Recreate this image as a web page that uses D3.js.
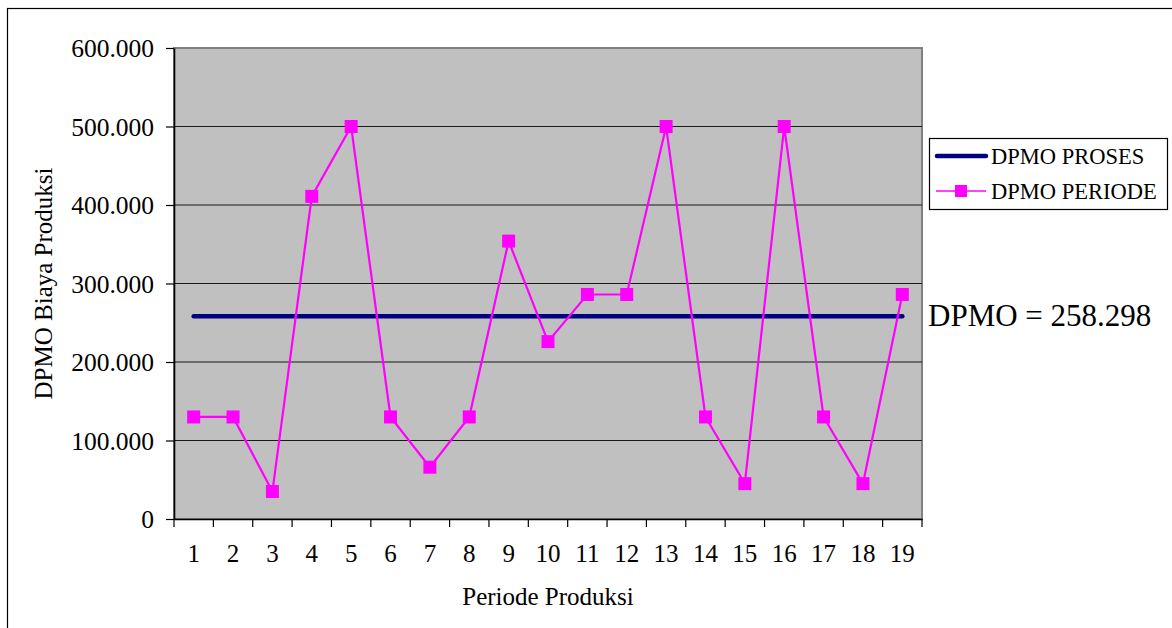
<!DOCTYPE html>
<html>
<head>
<meta charset="utf-8">
<script src="https://cdn.jsdelivr.net/npm/d3@7"></script>
<style>
  body { margin: 0; background: #fff; }
  svg { display: block; }
  svg text { font-family: "Liberation Serif", "Times New Roman", serif !important; fill: #000; }
</style>
</head>
<body>
<svg id="chart" width="1172" height="628"></svg>
<script>
// Production periods on the x axis
const periods = ["1", "2", "3", "4", "5", "6", "7", "8", "9", "10",
                 "11", "12", "13", "14", "15", "16", "17", "18", "19"];

// DPMO of production cost for each period
const dpmoPeriode = [130000, 130000, 35000, 411000, 500000, 130000, 66000, 130000, 354000, 226000,
                     286000, 286000, 500000, 130000, 45000, 500000, 130000, 45000, 286000];

// Overall process DPMO, drawn as a flat reference series
const dpmoProsesValue = 258298;
const dpmoProses = [258298, 258298, 258298, 258298, 258298, 258298, 258298, 258298, 258298, 258298,
                    258298, 258298, 258298, 258298, 258298, 258298, 258298, 258298, 258298];

const yTicks = [0, 100000, 200000, 300000, 400000, 500000, 600000];

const seriesNames = ["DPMO PROSES", "DPMO PERIODE"];

// Indonesian number format: "." as thousands separator
const idLocale = d3.formatLocale({ decimal: ",", thousands: ".", grouping: [3], currency: ["Rp", ""] });
const fmt = idLocale.format(",d");

const SERIF = "'Liberation Serif', 'Times New Roman', serif";

const svg = d3.select("#chart");

const plot = { left: 174, right: 922, top: 48, bottom: 519 };

const x = d3.scaleBand().domain(periods).range([plot.left, plot.right]);
const y = d3.scaleLinear().domain([0, 600000]).range([plot.bottom, plot.top]);
const cx = d => x(d) + x.bandwidth() / 2;

// Outer chart frame
svg.append("rect")
  .attr("x", 7.5).attr("y", 8.5)
  .attr("width", 1200).attr("height", 700)
  .attr("fill", "none").attr("stroke", "#000").attr("stroke-width", 1.2);

// Plot background
svg.append("rect")
  .attr("x", plot.left).attr("y", plot.top)
  .attr("width", plot.right - plot.left).attr("height", plot.bottom - plot.top)
  .attr("fill", "#c0c0c0")
  .attr("stroke", "#808080").attr("stroke-width", 2);

// Horizontal gridlines
svg.append("g")
  .selectAll("line")
  .data(yTicks.filter(v => v > 0 && v < 600000))
  .join("line")
  .attr("x1", plot.left).attr("x2", plot.right)
  .attr("y1", d => y(d)).attr("y2", d => y(d))
  .attr("stroke", "#1a1a1a").attr("stroke-width", 1);

// Y axis
const yAxis = svg.append("g")
  .attr("transform", `translate(${plot.left},0)`)
  .call(d3.axisLeft(y).tickValues(yTicks).tickFormat(fmt).tickSize(8).tickPadding(12).tickSizeOuter(0))
  .attr("font-family", SERIF);
yAxis.select(".domain").attr("stroke", "#000").attr("stroke-width", 1.6);
yAxis.selectAll(".tick line").attr("stroke", "#000").attr("stroke-width", 1.2);
yAxis.selectAll(".tick text")
  .style("font-family", SERIF)
  .style("font-size", "25.5px")
  .attr("dy", "0.34em")
  .attr("fill", "#000");

// X axis: labels centred on categories, ticks on category boundaries
const xAxis = svg.append("g")
  .attr("transform", `translate(0,${plot.bottom})`)
  .call(d3.axisBottom(x).tickSize(0).tickSizeOuter(0))
  .attr("font-family", SERIF);
xAxis.select(".domain").attr("stroke", "#000").attr("stroke-width", 1.6);
xAxis.selectAll(".tick text")
  .style("font-family", SERIF)
  .style("font-size", "25px")
  .attr("y", 43)
  .attr("dy", 0)
  .attr("fill", "#000");

const boundaries = periods.map(p => x(p)).concat([x.range()[1]]);
svg.append("g")
  .selectAll("line")
  .data(boundaries)
  .join("line")
  .attr("x1", d => d).attr("x2", d => d)
  .attr("y1", plot.bottom).attr("y2", plot.bottom + 8)
  .attr("stroke", "#000").attr("stroke-width", 1.2);

// Axis titles
svg.append("text")
  .attr("x", (plot.left + plot.right) / 2)
  .attr("y", 605)
  .attr("text-anchor", "middle")
  .style("font-size", "25px")
  .text("Periode Produksi");

svg.append("text")
  .attr("transform", `translate(52,${(plot.top + plot.bottom) / 2}) rotate(-90)`)
  .attr("text-anchor", "middle")
  .style("font-size", "25px")
  .text("DPMO Biaya Produksi");

// Process DPMO line
const line = d3.line().x((d, i) => cx(periods[i])).y(d => y(d));

svg.append("path")
  .datum(dpmoProses)
  .attr("d", line)
  .attr("fill", "none")
  .attr("stroke", "#000080")
  .attr("stroke-width", 4.5)
  .attr("stroke-linecap", "round");

// Period DPMO line with square markers
svg.append("path")
  .datum(dpmoPeriode)
  .attr("d", line)
  .attr("fill", "none")
  .attr("stroke", "#ff00ff")
  .attr("stroke-width", 2.2);

const mk = 13;
svg.append("g")
  .selectAll("rect")
  .data(dpmoPeriode)
  .join("rect")
  .attr("x", (d, i) => cx(periods[i]) - mk / 2)
  .attr("y", d => y(d) - mk / 2)
  .attr("width", mk).attr("height", mk)
  .attr("fill", "#ff00ff");

// Annotation of the process DPMO value
svg.append("text")
  .attr("x", 928)
  .attr("y", 326)
  .style("font-size", "31px")
  .text(`DPMO = ${fmt(dpmoProsesValue)}`);

// Legend
const legend = svg.append("g");
legend.append("rect")
  .attr("x", 929.5).attr("y", 138.5)
  .attr("width", 238).attr("height", 71)
  .attr("fill", "#fff").attr("stroke", "#000").attr("stroke-width", 1.2);

const legendRows = [
  { name: seriesNames[0], y: 156 },
  { name: seriesNames[1], y: 191 }
];

legend.append("line")
  .attr("x1", 937).attr("x2", 986)
  .attr("y1", legendRows[0].y).attr("y2", legendRows[0].y)
  .attr("stroke", "#000080").attr("stroke-width", 4.5)
  .attr("stroke-linecap", "round");

legend.append("line")
  .attr("x1", 936).attr("x2", 986)
  .attr("y1", legendRows[1].y).attr("y2", legendRows[1].y)
  .attr("stroke", "#ff00ff").attr("stroke-width", 1.6);
legend.append("rect")
  .attr("x", 955).attr("y", legendRows[1].y - 6)
  .attr("width", 12).attr("height", 12)
  .attr("fill", "#ff00ff");

legend.selectAll("text.lg")
  .data(legendRows)
  .join("text")
  .attr("class", "lg")
  .attr("x", 991)
  .attr("y", d => d.y + 8)
  .style("font-size", "22.5px")
  .text(d => d.name);
</script>
</body>
</html>
